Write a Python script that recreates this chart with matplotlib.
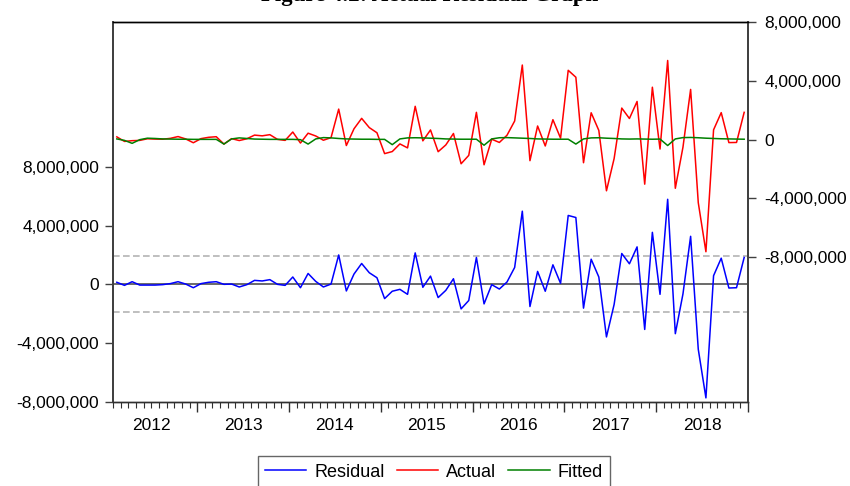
import matplotlib
matplotlib.use("Agg")
import matplotlib.pyplot as plt
from matplotlib.ticker import FixedLocator, FuncFormatter
from matplotlib.lines import Line2D
import matplotlib.transforms as mtransforms
import numpy as np

# ---- data (millions), monthly 2012M02 .. 2018M12 ----
start_year = 2012
start_month = 2
residual = [0.14, -0.07, 0.18, -0.05, -0.05, -0.05, -0.02, 0.05, 0.18, 0.02,
            -0.23, 0.05, 0.14, 0.18, 0.00, 0.02, -0.18, -0.02, 0.27, 0.23,
            0.32, 0.00, -0.07, 0.50, -0.23, 0.74, 0.20, -0.18, 0.02, 2.00,
            -0.45, 0.70, 1.42, 0.79, 0.45, -0.97, -0.47, -0.34, -0.68, 2.14,
            -0.20, 0.56, -0.90, -0.41, 0.38, -1.67, -1.10, 1.83, -1.33, -0.02,
            -0.32, 0.16, 1.15, 4.98, -1.51, 0.88, -0.47, 1.33, 0.07, 4.69,
            4.55, -1.62, 1.71, 0.50, -3.58, -1.37, 2.10, 1.40, 2.55, -3.07,
            3.54, -0.68, 5.79, -3.36, -0.65, 3.27, -4.42, -7.73, 0.59, 1.78,
            -0.25, -0.23, 1.83]
fitted = [0.05, -0.05, -0.25, 0.00, 0.10, 0.08, 0.05, 0.04, 0.03, 0.03,
          0.02, 0.02, 0.02, 0.02, -0.30, 0.05, 0.12, 0.08, 0.04, 0.03,
          0.02, 0.02, 0.02, 0.02, 0.00, -0.30, 0.05, 0.14, 0.12, 0.08,
          0.05, 0.04, 0.03, 0.03, 0.02, 0.02, -0.34, 0.05, 0.12, 0.13,
          0.12, 0.10, 0.08, 0.05, 0.04, 0.03, 0.03, 0.03, -0.38, 0.05,
          0.13, 0.14, 0.12, 0.10, 0.08, 0.05, 0.04, 0.03, 0.03, 0.03,
          -0.30, 0.05, 0.12, 0.13, 0.10, 0.08, 0.05, 0.04, 0.05, 0.04,
          0.03, 0.04, -0.40, 0.05, 0.14, 0.15, 0.13, 0.10, 0.08, 0.06,
          0.05, 0.04, 0.03]
actual = [0.19, -0.12, -0.07, -0.05, 0.06, 0.04, 0.03, 0.09, 0.21, 0.05,
          -0.21, 0.07, 0.16, 0.20, -0.30, 0.07, -0.06, 0.06, 0.31, 0.26,
          0.34, 0.02, -0.05, 0.52, -0.23, 0.44, 0.25, -0.04, 0.14, 2.08,
          -0.40, 0.74, 1.45, 0.82, 0.47, -0.95, -0.81, -0.29, -0.56, 2.27,
          -0.08, 0.66, -0.82, -0.36, 0.42, -1.64, -1.07, 1.86, -1.71, 0.03,
          -0.19, 0.30, 1.27, 5.08, -1.43, 0.93, -0.43, 1.36, 0.10, 4.72,
          4.25, -1.57, 1.83, 0.63, -3.48, -1.29, 2.15, 1.44, 2.60, -3.03,
          3.57, -0.64, 5.39, -3.31, -0.51, 3.42, -4.29, -7.63, 0.67, 1.84,
          -0.20, -0.19, 1.86]
resid_se = 1.9  # millions
years = [2012, 2013, 2014, 2015, 2016, 2017, 2018]
left_ticks = [-8e6, -4e6, 0, 4e6, 8e6]
right_ticks = [-8e6, -4e6, 0, 4e6, 8e6]
title_text = "Figure 4.2: Actual Residual Graph"

M = 1e6
res = np.array(residual) * M
fit = np.array(fitted) * M
act = np.array(actual) * M
n = len(res)
x = np.arange(n)

plt.rcParams["font.family"] = ["Liberation Sans", "DejaVu Sans"]

W, H = 850, 486
fig = plt.figure(figsize=(W / 100, H / 100), dpi=100)
L, R, T, B = 113, 748, 22, 402
ax = fig.add_axes([L / W, 1 - B / H, (R - L) / W, (B - T) / H])
ax2 = ax.twinx()

blue, red, green = "#0000ff", "#ff0000", "#008000"
lw = 1.1

# residual panel (left axis)
ax.axhline(0, color="#505050", lw=1.2, zorder=1)
for s in (resid_se, -resid_se):
    ax.axhline(s * M, color="#b4b4b4", lw=1.2, dashes=(4, 2), zorder=1)
ax.plot(x, res, color=blue, lw=lw, zorder=3)

# actual / fitted (right axis)
ax2.plot(x, act, color=red, lw=lw, zorder=3)
ax2.plot(x, fit, color=green, lw=lw, zorder=4)

ax.set_xlim(-0.5, n - 0.5)
ax.set_ylim(-8.01e6, 17.86e6)
ax2.set_ylim(-17.86e6, 8.01e6)

fmt = FuncFormatter(lambda v, p: f"{int(round(v)):,}")
ax.yaxis.set_major_locator(FixedLocator(left_ticks))
ax.yaxis.set_major_formatter(fmt)
ax2.yaxis.set_major_locator(FixedLocator(right_ticks))
ax2.yaxis.set_major_formatter(fmt)

# x ticks: year boundaries (major), month boundaries (minor)
month0 = start_month - 1  # zero-based month of first obs
boundaries = [i - 0.5 for i in range(n + 1) if (month0 + i) % 12 == 0]
ax.xaxis.set_major_locator(FixedLocator(boundaries))
ax.xaxis.set_minor_locator(FixedLocator([i - 0.5 for i in range(n + 1)]))
ax.set_xticklabels([])
ax.tick_params(axis="x", which="major", direction="out", length=7, width=1, color="#303030")
ax.tick_params(axis="x", which="minor", direction="out", length=4, width=0.8, color="#303030")

trans = mtransforms.blended_transform_factory(ax.transData, fig.transFigure)
for k, yr in enumerate(years):
    jan_idx = (yr - start_year) * 12 - month0
    center = jan_idx - 0.5 + 6
    ax.text(center, 1 - 425 / H, str(yr), transform=trans, ha="center", va="center",
            fontsize=12.5, color="black")

for a in (ax, ax2):
    a.tick_params(axis="y", direction="out", length=6, width=1, color="#404040",
                  labelsize=12.5, pad=4)
    for sp in ("left", "right"):
        a.spines[sp].set_color("#404040")
        a.spines[sp].set_linewidth(1.3)
    a.spines["top"].set_color("black")
    a.spines["top"].set_linewidth(1.0)
    a.spines["bottom"].set_color("#303030")
    a.spines["bottom"].set_linewidth(1.0)
ax2.tick_params(axis="y", pad=6)

# legend
handles = [Line2D([], [], color=blue, lw=lw), Line2D([], [], color=red, lw=lw),
           Line2D([], [], color=green, lw=lw)]
leg = fig.legend(handles, ["Residual", "Actual", "Fitted"], loc="center",
                 bbox_to_anchor=(434 / W, 1 - 472 / H), ncol=3, fontsize=13,
                 frameon=True, fancybox=False, edgecolor="#404040",
                 handlelength=2.3, handletextpad=0.45, columnspacing=0.65,
                 borderpad=0.4, borderaxespad=0)
leg.get_frame().set_linewidth(1.0)

# title (mostly cut off at top of image, as in the source)
fig.text(430 / W, 1 - 1 / H, title_text, ha="center", va="baseline",
         fontsize=16.5, fontweight="bold", family=["Liberation Serif", "DejaVu Serif"])

fig.savefig("out.png", dpi=100)
